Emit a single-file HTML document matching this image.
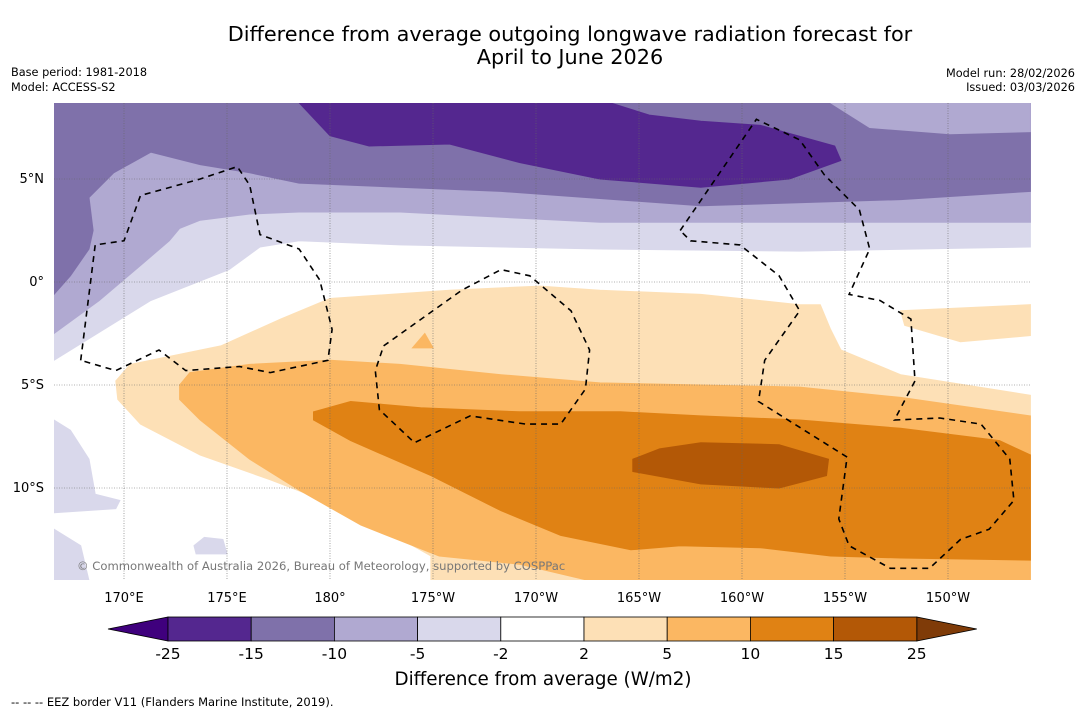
<!DOCTYPE html>
<html><head><meta charset="utf-8"><style>
body{margin:0;background:#fff;font-family:"Liberation Sans","DejaVu Sans",sans-serif}
svg text{font-family:"DejaVu Sans","Liberation Sans",sans-serif}
</style></head><body>
<svg id="c" width="1085" height="713" xmlns="http://www.w3.org/2000/svg">
<text x="570" y="41" font-size="20.8" text-anchor="middle">Difference from average outgoing longwave radiation forecast for</text>
<text x="570" y="64" font-size="20.8" text-anchor="middle">April to June 2026</text>
<text x="11" y="76" font-size="11.3">Base period: 1981-2018</text>
<text x="11" y="91" font-size="11.3">Model: ACCESS-S2</text>
<text x="1075" y="77" font-size="11.3" text-anchor="end">Model run: 28/02/2026</text>
<text x="1075" y="91" font-size="11.3" text-anchor="end">Issued: 03/03/2026</text>
<defs><clipPath id="mc"><rect x="54" y="103" width="977" height="477"/></clipPath></defs>
<g id="map" clip-path="url(#mc)"></g>
<g id="axes"></g>
<g id="cbar"></g>
<text x="543" y="685" font-size="18.3" text-anchor="middle">Difference from average (W/m2)</text>
<text x="11" y="706" font-size="11.5">--  --  -- EEZ border V11 (Flanders Marine Institute, 2019).</text>
</svg>
<script>
const lonTicks=[170,175,180,185,190,195,200,205,210];
const lonLabels=["170°E","175°E","180°","175°W","170°W","165°W","160°W","155°W","150°W"];
const latTicks=[5,0,-5,-10];
const latLabels=["5°N","0°","5°S","10°S"];
const levels=[-25,-15,-10,-5,-2,2,5,10,15,25];
const levelColors=["#54278f","#7f71aa","#b0a9d1","#d9d8eb","#ffffff","#fde0b6","#fbb762","#e08214","#b35806"];
// contour regions [lon(°E, continuous), lat]
const regLight=[[166.6,8.7],[214,8.7],[214,1.7],[202.8,1.5],[193.1,1.6],[183.4,1.8],[178.5,2.0],[176.6,1.7],[175.1,0.6],[171.3,-0.9],[166.6,-3.8]];
const regLightSW1=[[166.6,-6.7],[167.4,-7.2],[168.3,-8.6],[168.6,-10.3],[169.8,-10.6],[169.6,-11.0],[166.6,-11.2]];
const regLightSW2=[[166.6,-12.0],[167.9,-12.8],[168.3,-14.5],[166.6,-14.5]];
const regLightSW3=[[173.4,-12.8],[173.9,-12.4],[174.8,-12.5],[175.0,-13.2],[173.5,-13.2]];
const regMed=[[166.6,8.7],[214,8.7],[214,2.9],[202.8,2.9],[193.1,2.9],[183.4,3.4],[178.5,3.4],[176.1,3.3],[173.7,3.0],[172.7,2.6],[172.2,2.0],[170.8,0.8],[168.8,-0.9],[166.6,-2.5]];
const regDark=[[166.6,8.7],[214,8.7],[214,4.4],[207.7,4.0],[198,3.7],[188.3,4.4],[178.5,4.8],[176.1,5.3],[173.7,5.7],[171.3,6.3],[169.5,5.3],[168.3,4.1],[168.5,2.5],[168.3,1.6],[167.4,0.3],[166.6,-0.6]];
const regNE=[[204.3,8.7],[206.2,7.5],[210.1,7.2],[214,7.3],[214,8.7]];
const regDeep=[[178.5,8.7],[180,7.1],[181.9,6.6],[185.8,6.7],[189.2,5.8],[193.1,5.0],[198,4.6],[202.3,5.0],[204.8,5.9],[204.5,6.6],[200.9,7.6],[198,7.8],[195.5,8.1],[193.6,8.7]];
const regPale=[[169.6,-4.8],[170.3,-4.0],[174.7,-3.1],[177.6,-1.8],[180,-0.8],[185.8,-0.4],[190.2,-0.2],[193.1,-0.4],[198,-0.6],[202.8,-1.1],[203.8,-1.1],[204.3,-2.3],[204.8,-3.3],[207.7,-4.5],[214,-5.5],[214,-14.5],[184.9,-14.5],[184.9,-13.3],[181,-11.1],[177.1,-9.6],[173.7,-8.4],[170.8,-6.9],[169.7,-5.7]];
const regPaleE=[[207.7,-1.4],[214,-1.1],[214,-2.6],[210.6,-2.9],[207.9,-2.1]];
const regOr=[[172.7,-5.0],[173.2,-4.4],[176.1,-4.0],[180,-3.8],[183.4,-4.0],[188.3,-4.5],[193.1,-4.9],[198,-5.0],[202.8,-5.1],[207.7,-5.6],[214,-6.5],[214,-14.5],[192.6,-14.5],[189.2,-13.7],[185.3,-13.3],[181.5,-11.8],[178.5,-10.1],[176.1,-8.6],[173.7,-6.7],[172.7,-5.7]];
const regOrT=[[184.0,-3.2],[184.6,-2.5],[185.0,-3.2]];
const regDO=[[179.2,-6.3],[181,-5.8],[184.4,-6.1],[189.2,-6.3],[194.1,-6.3],[198,-6.5],[202.8,-6.7],[207.7,-7.1],[212.5,-7.7],[214,-8.4],[214,-13.5],[207.7,-13.4],[204.3,-13.3],[200.9,-12.9],[197,-12.8],[194.6,-13.0],[191.2,-12.3],[188.3,-11.1],[184.9,-9.4],[181,-7.7],[179.2,-6.7]];
const regBr=[[194.7,-8.6],[196,-8.1],[198,-7.8],[201.8,-7.9],[204.2,-8.6],[204.1,-9.4],[201.8,-10.0],[198,-9.8],[194.7,-9.2]];
const eez1=[[167.9,-3.8],[168.6,1.8],[170,2.0],[170.8,4.2],[173.7,5.0],[175.5,5.6],[176.1,4.7],[176.6,2.3],[178.5,1.6],[179.5,0.1],[180.1,-2.3],[179.9,-3.8],[177.1,-4.4],[175.6,-4.1],[173,-4.3],[171.7,-3.3],[169.6,-4.3],[167.9,-3.8]];
const eez2=[[182.6,-3.1],[186.4,-0.4],[188.3,0.6],[189.7,0.3],[191.7,-1.4],[192.6,-3.3],[192.4,-5.2],[191.2,-6.9],[189.5,-6.9],[186.8,-6.5],[184.1,-7.8],[182.4,-6.2],[182.2,-4.3],[182.6,-3.1]];
const eez3=[[197,2.5],[200.7,7.9],[202.8,6.9],[204,5.2],[205.7,3.5],[206.2,1.6],[205.2,-0.6],[206.7,-0.9],[208.2,-1.8],[208.4,-4.8],[207.4,-6.7],[209.6,-6.6],[211.6,-6.9],[213,-8.6],[213.2,-10.6],[212,-12],[210.6,-12.5],[209.1,-13.9],[207.2,-13.9],[205.2,-12.8],[204.7,-11.5],[205.1,-8.5],[200.8,-5.8],[201.1,-3.8],[202.8,-1.4],[201.8,0.3],[199.9,1.8],[197.5,2.0],[197,2.5]];
const NS="http://www.w3.org/2000/svg";
const X=lon=>124+(lon-170)*20.6, Y=lat=>282-lat*20.6;
const map=document.getElementById('map'),axes=document.getElementById('axes'),cb=document.getElementById('cbar');
function mk(t,a,p){const e=document.createElementNS(NS,t);for(const k in a)e.setAttribute(k,a[k]);p.appendChild(e);return e;}
function pts(r){return r.map(p=>X(p[0]).toFixed(1)+','+Y(p[1]).toFixed(1)).join(' ');}
mk('rect',{x:54,y:103,width:977,height:477,fill:'#fff'},map);
const layers=[[regLight,3,'region-minus5-to-minus2'],[regLightSW1,3,'region-sw-minus5-a'],[regLightSW2,3,'region-sw-minus5-b'],[regLightSW3,3,'region-sw-minus5-c'],[regMed,2,'region-minus10-to-minus5'],[regDark,1,'region-minus15-to-minus10'],[regNE,2,'region-ne-minus10-to-minus5'],[regDeep,0,'region-minus25-to-minus15'],[regPale,5,'region-2-to-5'],[regPaleE,5,'region-east-2-to-5'],[regOr,6,'region-5-to-10'],[regOrT,6,'region-5-to-10-small'],[regDO,7,'region-10-to-15'],[regBr,8,'region-15-to-25']];
layers.forEach(l=>{const e=mk('polygon',{points:pts(l[0]),fill:levelColors[l[1]],stroke:levelColors[l[1]],'stroke-width':1},map);

});
lonTicks.forEach(v=>mk('line',{x1:X(v),x2:X(v),y1:103,y2:580,stroke:'#666','stroke-width':0.6,'stroke-dasharray':'1,1.5'},map));
latTicks.forEach(v=>mk('line',{x1:54,x2:1031,y1:Y(v),y2:Y(v),stroke:'#666','stroke-width':0.6,'stroke-dasharray':'1,1.5'},map));
[eez1,eez2,eez3].forEach((r,i)=>{const e=mk('polyline',{points:pts(r),fill:'none',stroke:'#000','stroke-width':1.6,'stroke-dasharray':'6,5'},map);

});
const cr=mk('text',{x:77,y:570,'font-size':11.6,fill:'#777'},map);cr.textContent='© Commonwealth of Australia 2026, Bureau of Meteorology, supported by COSPPac';


lonTicks.forEach((v,i)=>{const t=mk('text',{x:X(v),y:602,'font-size':13,'text-anchor':'middle'},axes);t.textContent=lonLabels[i];

});
latTicks.forEach((v,i)=>{const t=mk('text',{x:44,y:Y(v)+4,'font-size':13,'text-anchor':'end'},axes);t.textContent=latLabels[i];

});
// colorbar
const cx0=168,cw=83.2,cy=617,ch=24;
mk('polygon',{points:`108,${cy+ch/2} ${cx0},${cy} ${cx0},${cy+ch}`,fill:'#3f007d',stroke:'#000','stroke-width':0.8},cb);
mk('polygon',{points:`${cx0+9*cw+60},${cy+ch/2} ${cx0+9*cw},${cy} ${cx0+9*cw},${cy+ch}`,fill:'#7f3b08',stroke:'#000','stroke-width':0.8},cb);
levelColors.forEach((c,i)=>{const r=mk('rect',{x:cx0+i*cw,y:cy,width:cw,height:ch,fill:c,stroke:'#000','stroke-width':0.8},cb);

});
levels.forEach((v,i)=>{const t=mk('text',{x:cx0+i*cw,y:659,'font-size':15.5,'text-anchor':'middle'},cb);t.textContent=v;

});
</script>
</body></html>
